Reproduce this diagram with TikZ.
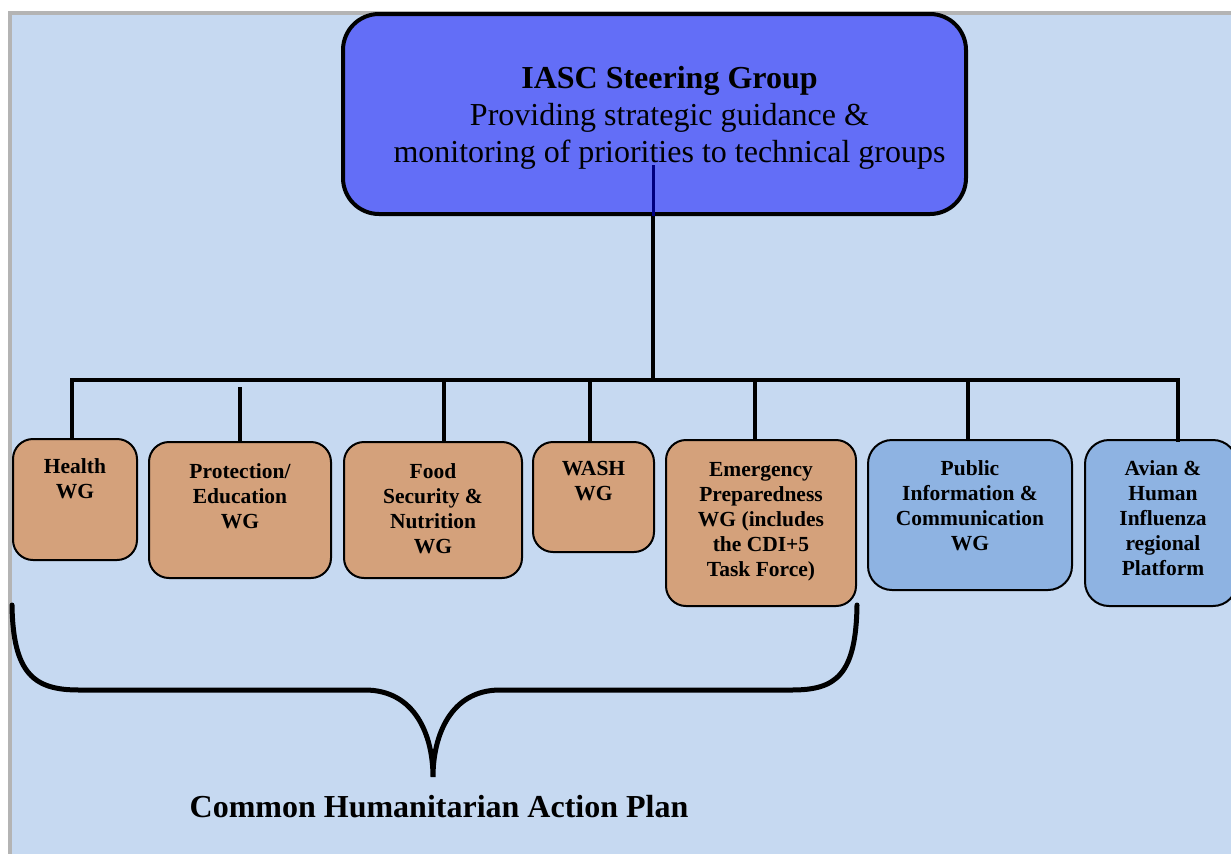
\documentclass[tikz,border=0pt]{standalone}
\usepackage{fontspec}
\setmainfont{Liberation Serif}
\definecolor{bgblue}{RGB}{198,217,241}
\definecolor{framegray}{RGB}{180,180,180}
\definecolor{topblue}{RGB}{99,110,247}
\definecolor{tan}{RGB}{212,161,123}
\definecolor{wgblue}{RGB}{142,179,226}
\definecolor{navy}{RGB}{0,0,128}
\tikzset{
  wgbox/.style={draw=black, line width=2pt, rounded corners=20pt, fill=tan, anchor=north west, inner sep=0pt},
  bluebox/.style={wgbox, fill=wgblue, rounded corners=24pt},
  wgtext/.style={anchor=north, inner sep=0pt, align=center, font=\fontsize{21.5}{25}\selectfont\bfseries},
  conn/.style={line width=4pt, black},
}
\begin{document}
\begin{tikzpicture}[x=1pt, y=-1pt]
\useasboundingbox (0,0) rectangle (1231,854);
\fill[white] (0,0) rectangle (1231,854);
\fill[framegray] (8,11) rectangle (1231,854);
\fill[bgblue] (12,15) rectangle (1231,854);

% top box
\node[draw=black, line width=4pt, fill=topblue, rounded corners=36pt, minimum width=623pt, minimum height=200pt, inner sep=0pt,
  label={[anchor=north, inner sep=0pt, align=center, xshift=15pt, yshift=-54pt, font=\fontsize{32}{37}\selectfont]north:{\textbf{IASC Steering Group}\\Providing strategic guidance \&\\monitoring of priorities to technical groups}}]
  (top) at (654.5,114) {};

% working groups
\node[wgbox, minimum width=124pt, minimum height=121pt, label={[wgtext, yshift=-20pt]north:{Health\\WG}}] (health) at (12,438) {};
\node[wgbox, minimum width=182pt, minimum height=136pt, label={[wgtext, yshift=-22pt]north:{Protection/\\Education\\WG}}] (prot) at (148,441) {};
\node[wgbox, minimum width=178pt, minimum height=136pt, label={[wgtext, yshift=-22pt]north:{Food\\Security \&\\Nutrition\\WG}}] (food) at (343,441) {};
\node[wgbox, minimum width=121pt, minimum height=110pt, label={[wgtext, yshift=-20pt]north:{WASH\\WG}}] (wash) at (532,441) {};
\node[wgbox, minimum width=190pt, minimum height=166pt, label={[wgtext, yshift=-23pt]north:{Emergency\\Preparedness\\WG (includes\\the CDI+5\\Task Force)}}] (emer) at (665,439) {};
\node[bluebox, minimum width=204pt, minimum height=150pt, label={[wgtext, yshift=-21pt]north:{Public\\Information \&\\Communication\\WG}}] (pub) at (867,439) {};
\node[bluebox, minimum width=152pt, minimum height=166pt, label={[wgtext, yshift=-21pt, xshift=2pt]north:{Avian \&\\Human\\Influenza\\regional\\Platform}}] (avian) at (1084,439) {};

% connectors
\coordinate (hub) at (653,380);
\coordinate (busL) at (72,380);
\coordinate (busR) at (1178,380);
\draw[line width=3pt, navy] (653,165) -- (top.south -| hub);
\draw[conn] (top.south -| hub) -- (hub);
\draw[conn, line cap=rect] (busL) -- (busR);
\draw[conn] (busL) -- (health.north -| busL);
\draw[conn] (240,387) -- (prot.north -| 240,0);
\draw[conn] (444,380) -- (food.north -| 444,0);
\draw[conn] (590,380) -- (wash.north -| 590,0);
\draw[conn] (755,380) -- (emer.north -| 755,0);
\draw[conn] (968,380) -- (pub.north -| 968,0);
\draw[conn] (busR) -- ([yshift=-3pt]avian.north -| busR);

% brace
\coordinate (braceL) at (12,605);
\coordinate (braceR) at (857,605);
\coordinate (braceTip) at (433,777);
\draw[line width=5pt, line cap=round]
  (braceL) .. controls (13,675) and (35,690) .. (79,690)
  -- (365,690) .. controls (415,690) and (433,735) .. (braceTip)
  .. controls (433,735) and (451,690) .. (500,690)
  -- (792,690) .. controls (836,690) and (856,675) .. (braceR);
\node[anchor=base, inner sep=0pt, font=\fontsize{32}{37}\selectfont\bfseries] (chap) at (439,817) {Common Humanitarian Action Plan};
\end{tikzpicture}
\end{document}
